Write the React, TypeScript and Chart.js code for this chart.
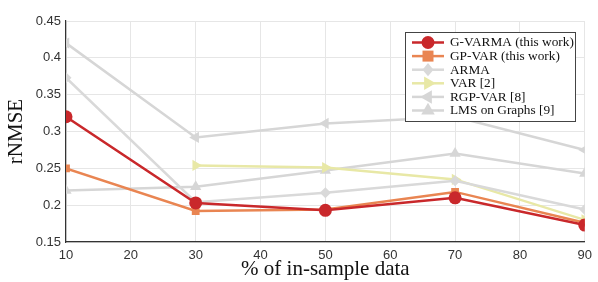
import React, { useEffect, useRef } from "react";
import { Chart, registerables } from "chart.js";

Chart.register(...registerables);

const xValues = [10, 30, 50, 70, 90];
const gVarma = [0.32, 0.203, 0.193, 0.21, 0.173];
const gpVar = [0.25, 0.192, 0.194, 0.218, 0.176];
const arma = [0.373, 0.204, 0.217, 0.233, 0.194];
const varS = [null, 0.254, 0.251, 0.235, 0.18];
const rgpVar = [0.42, 0.292, 0.311, 0.32, 0.275];
const lms = [0.22, 0.225, 0.247, 0.27, 0.243];

const seriesNames = [
  "G-VARMA (this work)",
  "GP-VAR (this work)",
  "ARMA",
  "VAR [2]",
  "RGP-VAR [8]",
  "LMS on Graphs [9]",
];

const serif = "'Liberation Serif', 'Times New Roman', serif";
const sans = "'Liberation Sans', Arial, sans-serif";

function toPts(arr: (number | null)[]) {
  return xValues.map((x, i) => ({ x, y: arr[i] }));
}

const legendPlugin = {
  id: "boxLegend",
  afterDraw(chart: any) {
    const ctx = chart.ctx;
    const left = 405, top = 32, w = 170, h = 89;
    ctx.save();
    ctx.fillStyle = "#ffffff";
    ctx.fillRect(left, top, w, h);
    ctx.strokeStyle = "#444";
    ctx.lineWidth = 1;
    ctx.strokeRect(left + 0.5, top + 0.5, w, h);
    chart.data.datasets.forEach((ds: any, i: number) => {
      const y = top + 10.5 + i * 13.6;
      ctx.strokeStyle = ds.borderColor;
      ctx.lineWidth = 2.5;
      ctx.beginPath();
      ctx.moveTo(412, y);
      ctx.lineTo(444, y);
      ctx.stroke();
      ctx.fillStyle = ds.pointBackgroundColor;
      const r = ds.pointRadius;
      const style = ds.pointStyle;
      const cx = 428;
      ctx.beginPath();
      if (style === "circle") {
        ctx.arc(cx, y, r, 0, Math.PI * 2);
      } else if (style === "rect") {
        ctx.rect(cx - r, y - r, 2 * r, 2 * r);
      } else if (style === "rectRot") {
        ctx.moveTo(cx, y - r * 1.2);
        ctx.lineTo(cx + r * 1.0, y);
        ctx.lineTo(cx, y + r * 1.2);
        ctx.lineTo(cx - r * 1.0, y);
      } else if (style === "triangle") {
        const rot = ((ds.pointRotation || 0) * Math.PI) / 180;
        for (let k = 0; k < 3; k++) {
          const a = rot - Math.PI / 2 + (k * 2 * Math.PI) / 3;
          const px = cx + r * 1.2 * Math.cos(a);
          const py = y + r * 1.2 * Math.sin(a);
          if (k === 0) ctx.moveTo(px, py);
          else ctx.lineTo(px, py);
        }
      }
      ctx.closePath();
      ctx.fill();
      ctx.fillStyle = "#111";
      ctx.font = `13.3px ${serif}`;
      ctx.textBaseline = "middle";
      ctx.textAlign = "left";
      ctx.fillText(seriesNames[i], 450, y + 0.5);
    });
    ctx.restore();
  },
};

export default function App() {
  const ref = useRef<HTMLCanvasElement>(null);
  useEffect(() => {
    document.body.style.margin = "0";
    const gray = "#d6d6d6";
    const mk = (i: number, data: any, color: string, style: string, r: number, rot = 0, order = 0) => ({
      label: seriesNames[i],
      data: toPts(data),
      borderColor: color,
      backgroundColor: color,
      pointBackgroundColor: color,
      pointBorderColor: color,
      pointBorderWidth: 0,
      pointStyle: style,
      pointRadius: r,
      pointRotation: rot,
      borderWidth: 2.5,
      spanGaps: false,
      order,
    });
    const chart = new Chart(ref.current!, {
      type: "line",
      data: {
        datasets: [
          mk(0, gVarma, "#c9282b", "circle", 6.5, 0, 0),
          mk(1, gpVar, "#e98552", "rect", 5.5, 0, 1),
          mk(2, arma, "#d9d9d9", "rectRot", 5.5, 0, 2),
          mk(3, varS, "#e8e8a6", "triangle", 6.5, 90, 3),
          mk(4, rgpVar, gray, "triangle", 6.5, -90, 4),
          mk(5, lms, gray, "triangle", 6.5, 0, 5),
        ] as any,
      },
      options: {
        animation: false,
        responsive: false,
        layout: { padding: { top: 21, right: 13, left: 0, bottom: 0 } },
        plugins: { legend: { display: false }, tooltip: { enabled: false } },
        scales: {
          x: {
            type: "linear",
            min: 10,
            max: 90,
            ticks: { stepSize: 10, color: "#333", font: { family: sans, size: 13 }, padding: 6, maxRotation: 0 },
            grid: { color: "#e6e6e6", drawTicks: false },
            border: { color: "#333", width: 1.2 },
            title: { display: true, text: "% of in-sample data", color: "#111", font: { family: serif, size: 21 }, padding: { top: -2, bottom: 0 } },
            afterFit: (s: any) => { s.height = 40; },
          },
          y: {
            min: 0.15,
            max: 0.45,
            ticks: { stepSize: 0.05, color: "#333", font: { family: sans, size: 13 }, padding: 5, callback: (v: any) => String(Math.round(v * 100) / 100) },
            grid: { color: "#e6e6e6", drawTicks: false },
            border: { color: "#333", width: 1.2 },
            title: { display: true, text: "rNMSE", color: "#111", font: { family: serif, size: 21 }, padding: { top: 4, bottom: 4 } },
            afterFit: (s: any) => { s.width = 66; },
          },
        },
      } as any,
      plugins: [legendPlugin],
    });
    return () => chart.destroy();
  }, []);
  return <canvas ref={ref} width={598} height={282} style={{ display: "block" }} />;
}
